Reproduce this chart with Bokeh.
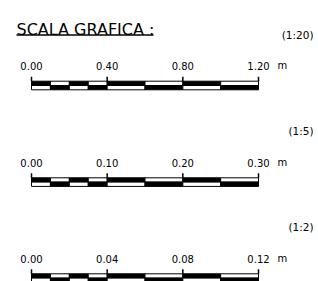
from bokeh.plotting import figure
from bokeh.models import Range1d, ColumnDataSource
from bokeh.core.properties import value
from bokeh.embed import file_html
from bokeh.resources import INLINE

# ---- data ----
title = "SCALA GRAFICA :"
unit = "m"
scale_names = ["(1:20)", "(1:5)", "(1:2)"]
ticks_1_20 = [0.0, 0.4, 0.8, 1.2]
ticks_1_5 = [0.0, 0.1, 0.2, 0.3]
ticks_1_2 = [0.0, 0.04, 0.08, 0.12]
labels_1_20 = ["0.00", "0.40", "0.80", "1.20"]
labels_1_5 = ["0.00", "0.10", "0.20", "0.30"]
labels_1_2 = ["0.00", "0.04", "0.08", "0.12"]
first_subdivisions = 4
other_subdivisions = 2

all_ticks = [ticks_1_20, ticks_1_5, ticks_1_2]
all_labels = [labels_1_20, labels_1_5, labels_1_2]

# ---- layout ----
FONT = "DejaVu Sans"
X0, X1 = 31.0, 258.0
bar_tops = [80.7, 177.3, 273.3]
ROW = 4.3

p = figure(width=318, height=281, output_backend="svg", toolbar_location=None,
           x_range=Range1d(0, 318), y_range=Range1d(281, 0),
           min_border=0, outline_line_color=None, background_fill_color="white")
p.axis.visible = False
p.grid.visible = False

# title
p.text(x=[16], y=[29], text=[title], text_font=value(FONT), text_font_size="16px",
       text_color="black", text_baseline="alphabetic", text_align="left")
p.segment(x0=[16], y0=[34.5], x1=[153], y1=[34.5], line_color="black", line_width=1.5)

for ticks, labels, name, top in zip(all_ticks, all_labels, scale_names, bar_tops):
    vmax = ticks[-1]
    sx = lambda v: X0 + v / vmax * (X1 - X0)
    # boundaries
    bounds = []
    for k in range(len(ticks) - 1):
        n = first_subdivisions if k == 0 else other_subdivisions
        a, b = ticks[k], ticks[k + 1]
        for j in range(n):
            bounds.append(a + (b - a) * j / n)
    bounds.append(ticks[-1])
    lefts = [sx(v) for v in bounds[:-1]]
    rights = [sx(v) for v in bounds[1:]]
    n = len(lefts)
    top_cols = ["black" if i % 2 == 0 else "white" for i in range(n)]
    bot_cols = ["white" if i % 2 == 0 else "black" for i in range(n)]
    src = ColumnDataSource(dict(
        left=lefts + lefts, right=rights + rights,
        top=[top] * n + [top + ROW] * n,
        bottom=[top + ROW] * n + [top + 2 * ROW] * n,
        color=top_cols + bot_cols))
    p.quad(left="left", right="right", top="top", bottom="bottom", source=src,
           fill_color="color", line_color="black", line_width=1)
    # tick marks
    xs = [sx(v) for v in ticks]
    p.segment(x0=xs, y0=[top - 4.5] * len(xs), x1=xs, y1=[top] * len(xs),
              line_color="black", line_width=1.5)
    # labels
    p.text(x=xs, y=[top - 15.3] * len(xs), text=labels, text_font=value(FONT),
           text_font_size="10px", text_align="center", text_baseline="alphabetic",
           text_color="black")
    p.text(x=[277], y=[top - 15.3], text=[unit], text_font=value(FONT),
           text_font_size="10px", text_align="left", text_baseline="alphabetic",
           text_color="black")
    p.text(x=[313], y=[top - 46.5], text=[name], text_font=value(FONT),
           text_font_size="10.5px", text_align="right", text_baseline="alphabetic",
           text_color="black")

open("out.html", "w").write(file_html(p, INLINE))
